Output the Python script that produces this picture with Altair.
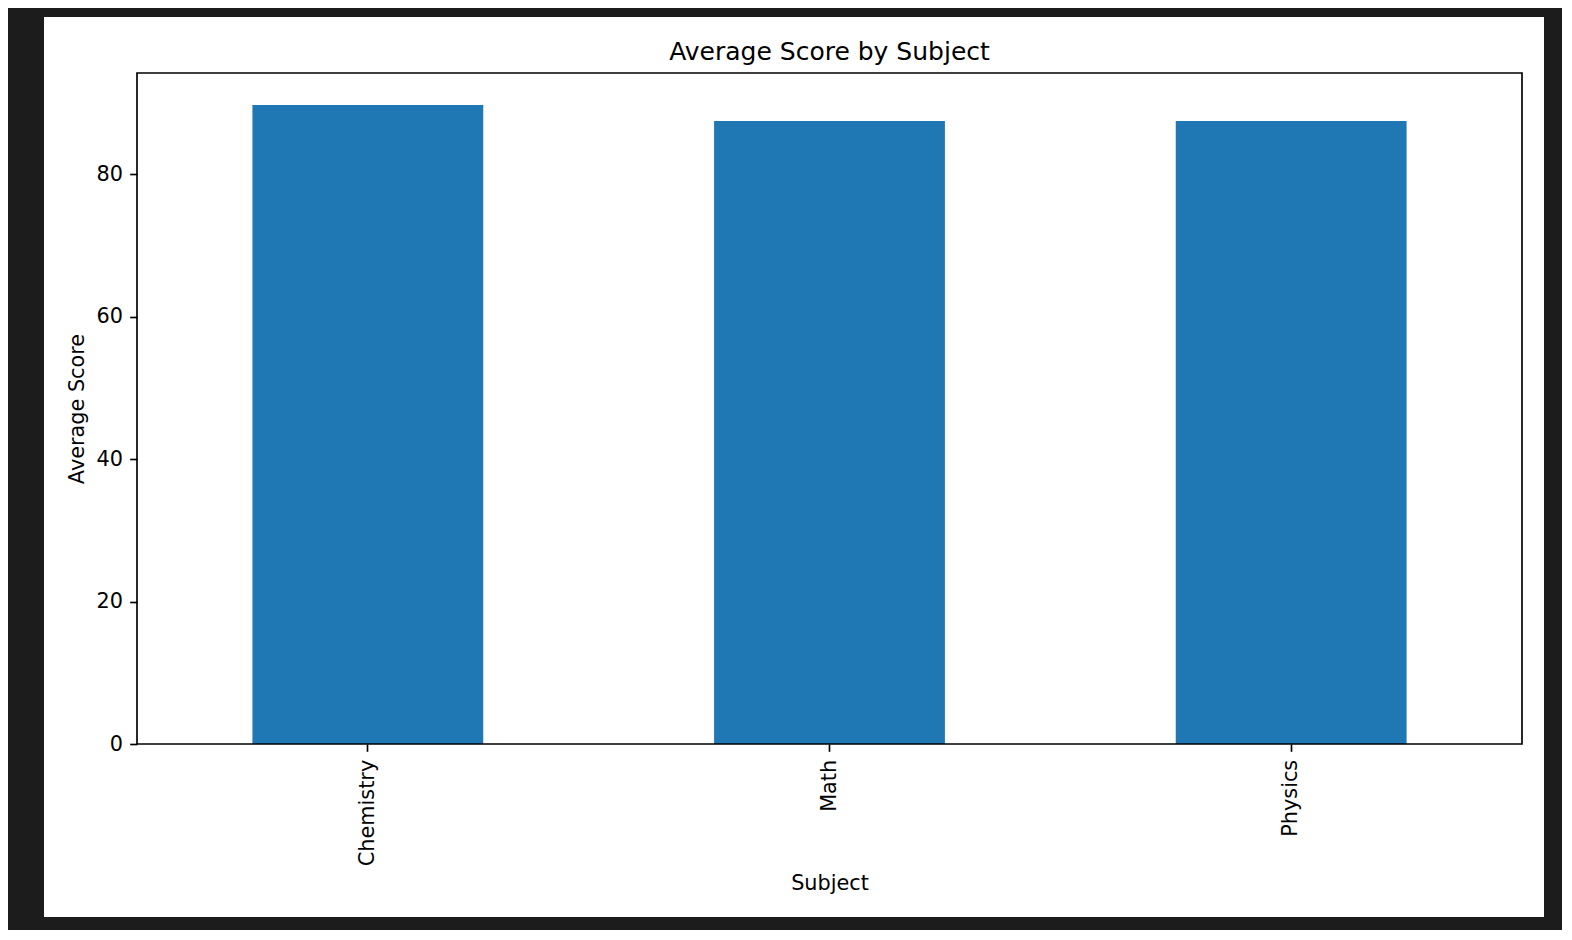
import altair as alt
import pandas as pd

subjects = ["Chemistry", "Math", "Physics"]
avg_scores = [89.75, 87.5, 87.5]
y_ticks = [0, 20, 40, 60, 80]

FONT = "DejaVu Sans"
PW, PH = 1385, 671

df = pd.DataFrame({"Subject": subjects, "Average Score": avg_scores})
one = pd.DataFrame({"k": [0]})

y_max = max(avg_scores) * 1.05

# white figure background (decoration, not data)
fig_bg = alt.Chart(one).mark_rect(color="white").encode(
    x=alt.value(-93), x2=alt.value(1407), y=alt.value(-56), y2=alt.value(844)
)

bars = alt.Chart(df).mark_bar(color="#1f77b4").encode(
    x=alt.X(
        "Subject:N",
        sort=subjects,
        scale=alt.Scale(paddingInner=0.5, paddingOuter=0.25),
        axis=alt.Axis(
            title="Subject",
            labelAngle=270,
            labelAlign="right",
            labelBaseline="middle",
            labelPadding=8,
            tickSize=7.3,
            tickWidth=1.67,
            tickColor="black",
            domain=False,
            labelFont=FONT,
            labelFontSize=20.8,
            labelColor="black",
            titleFont=FONT,
            titleFontSize=20.8,
            titleFontWeight="normal",
            titleColor="black",
            titleBaseline="alphabetic",
            titleY=145,
            zindex=1,
        ),
    ),
    y=alt.Y(
        "Average Score:Q",
        scale=alt.Scale(domain=[0, y_max], nice=False, zero=True),
        axis=alt.Axis(
            title="Average Score",
            values=y_ticks,
            grid=False,
            tickSize=7.3,
            tickWidth=1.67,
            tickColor="black",
            domain=False,
            labelPadding=7.3,
            labelFont=FONT,
            labelFontSize=20.8,
            labelColor="black",
            titleFont=FONT,
            titleFontSize=20.8,
            titleFontWeight="normal",
            titleColor="black",
            titleAngle=270,
            titleAlign="center",
            titleBaseline="alphabetic",
            titleX=-54,
            titleY=PH / 2,
            zindex=1,
        ),
    ),
)

frame = alt.Chart(one).mark_rect(fillOpacity=0, stroke="black", strokeWidth=1.67).encode(
    x=alt.value(0), x2=alt.value(PW), y=alt.value(0), y2=alt.value(PH)
)

chart = alt.layer(fig_bg, bars, frame).properties(
    width=PW,
    height=PH,
    autosize=alt.AutoSizeParams(type="none"),
    padding={"left": 129, "top": 65, "right": 40, "bottom": 186},
    background="#1c1c1c",
    title=alt.TitleParams(
        "Average Score by Subject",
        font=FONT,
        fontSize=25,
        fontWeight="normal",
        color="black",
        anchor="middle",
        frame="group",
        baseline="alphabetic",
        offset=0,
        dy=68,
        zindex=1,
    ),
).configure_view(stroke=None)

chart.save("out.html", embed_options={"renderer": "svg", "actions": False})
